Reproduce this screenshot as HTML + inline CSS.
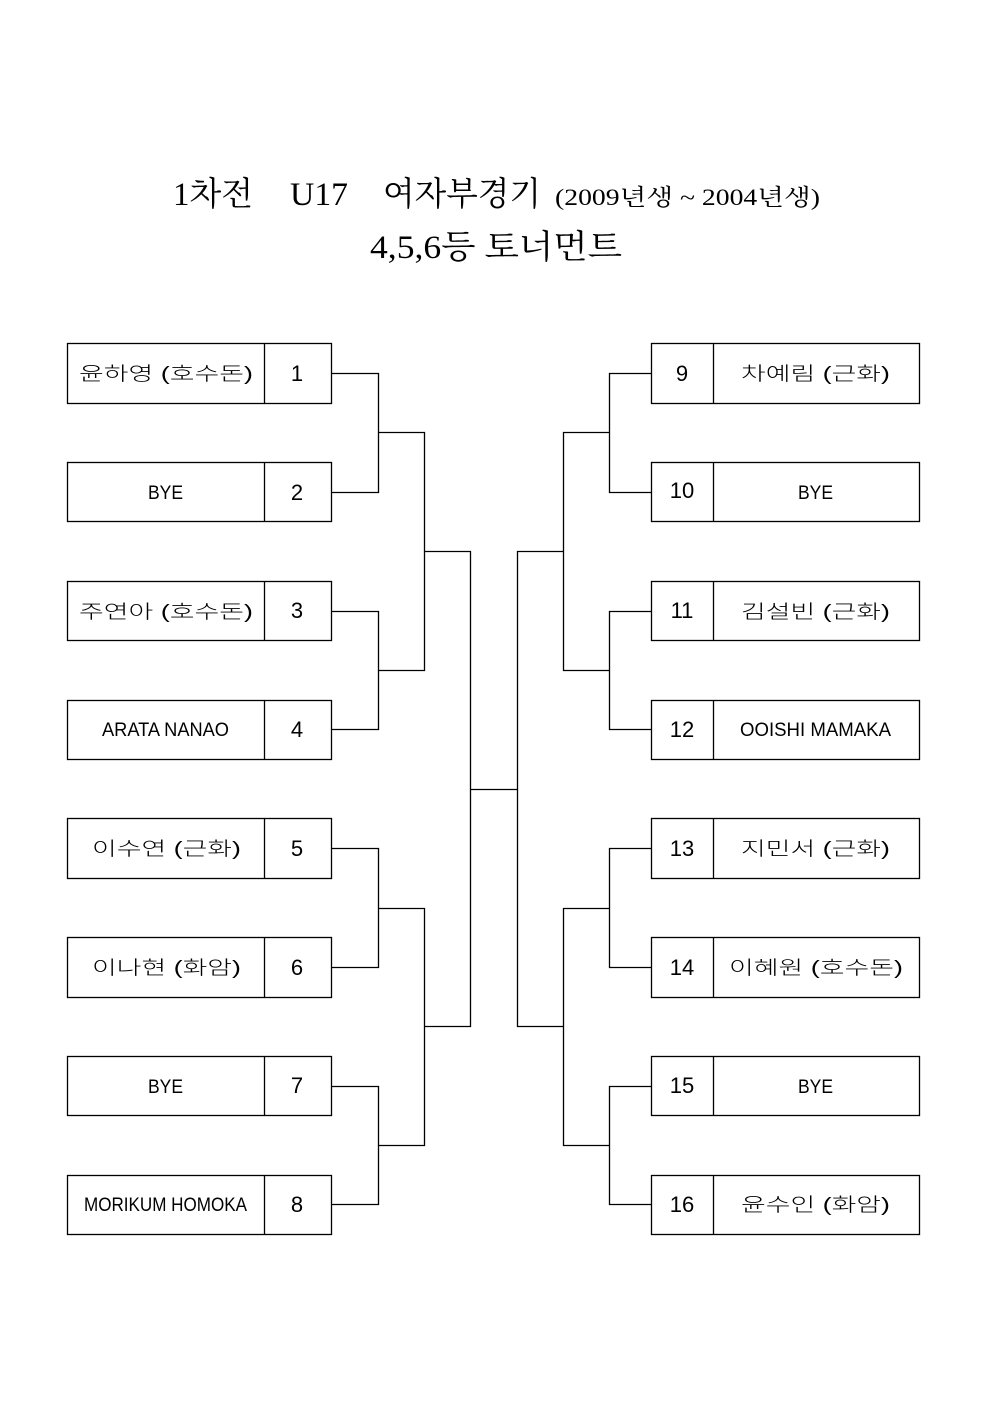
<!DOCTYPE html>
<html><head><meta charset="utf-8"><style>
html,body{margin:0;padding:0;background:#fff;}
svg{display:block;}
.t{font-family:"Liberation Serif","Noto Serif CJK KR","Noto Serif CJK SC",serif;fill:#000;}
.n{font-family:"Liberation Sans","Noto Sans CJK KR",sans-serif;fill:#000;font-size:22px;}
.nm{font-family:"Liberation Sans","Noto Sans CJK KR",sans-serif;fill:#000;font-size:19px;font-weight:300;}
</style></head><body>
<svg width="992" height="1403" viewBox="0 0 992 1403" xmlns="http://www.w3.org/2000/svg">
<text class="t" x="173" y="205" font-size="33" textLength="80" lengthAdjust="spacingAndGlyphs">1차전</text>
<text class="t" x="290" y="205" font-size="33" textLength="58" lengthAdjust="spacingAndGlyphs">U17</text>
<text class="t" x="383" y="205" font-size="33" textLength="158" lengthAdjust="spacingAndGlyphs">여자부경기</text>
<text class="t" x="555" y="205" font-size="23" textLength="265" lengthAdjust="spacingAndGlyphs">(2009년생 ~ 2004년생)</text>
<text class="t" x="370" y="258" font-size="33" textLength="252" lengthAdjust="spacingAndGlyphs">4,5,6등 토너먼트</text>
<g fill="none" stroke="#000" stroke-width="1.3">
<rect x="67.5" y="343.5" width="264" height="60"/><line x1="264.5" y1="343" x2="264.5" y2="404"/>
<rect x="67.5" y="462.5" width="264" height="59"/><line x1="264.5" y1="462" x2="264.5" y2="522"/>
<rect x="67.5" y="581.5" width="264" height="59"/><line x1="264.5" y1="581" x2="264.5" y2="641"/>
<rect x="67.5" y="700.5" width="264" height="59"/><line x1="264.5" y1="700" x2="264.5" y2="760"/>
<rect x="67.5" y="818.5" width="264" height="60"/><line x1="264.5" y1="818" x2="264.5" y2="879"/>
<rect x="67.5" y="937.5" width="264" height="60"/><line x1="264.5" y1="937" x2="264.5" y2="998"/>
<rect x="67.5" y="1056.5" width="264" height="59"/><line x1="264.5" y1="1056" x2="264.5" y2="1116"/>
<rect x="67.5" y="1175.5" width="264" height="59"/><line x1="264.5" y1="1175" x2="264.5" y2="1235"/>
<rect x="651.5" y="343.5" width="268" height="60"/><line x1="713.5" y1="343" x2="713.5" y2="404"/>
<rect x="651.5" y="462.5" width="268" height="59"/><line x1="713.5" y1="462" x2="713.5" y2="522"/>
<rect x="651.5" y="581.5" width="268" height="59"/><line x1="713.5" y1="581" x2="713.5" y2="641"/>
<rect x="651.5" y="700.5" width="268" height="59"/><line x1="713.5" y1="700" x2="713.5" y2="760"/>
<rect x="651.5" y="818.5" width="268" height="60"/><line x1="713.5" y1="818" x2="713.5" y2="879"/>
<rect x="651.5" y="937.5" width="268" height="60"/><line x1="713.5" y1="937" x2="713.5" y2="998"/>
<rect x="651.5" y="1056.5" width="268" height="59"/><line x1="713.5" y1="1056" x2="713.5" y2="1116"/>
<rect x="651.5" y="1175.5" width="268" height="59"/><line x1="713.5" y1="1175" x2="713.5" y2="1235"/>
<polyline points="331,373.5 378.5,373.5 378.5,492.5 331,492.5"/>
<polyline points="331,611.5 378.5,611.5 378.5,729.5 331,729.5"/>
<polyline points="331,848.5 378.5,848.5 378.5,967.5 331,967.5"/>
<polyline points="331,1086.5 378.5,1086.5 378.5,1204.5 331,1204.5"/>
<polyline points="378,432.5 424.5,432.5 424.5,670.5 378,670.5"/>
<polyline points="378,908.5 424.5,908.5 424.5,1145.5 378,1145.5"/>
<polyline points="424,551.5 470.5,551.5 470.5,1026.5 424,1026.5"/>
<line x1="470" y1="789.5" x2="517" y2="789.5"/>
<polyline points="651,373.5 609.5,373.5 609.5,492.5 651,492.5"/>
<polyline points="651,611.5 609.5,611.5 609.5,729.5 651,729.5"/>
<polyline points="651,848.5 609.5,848.5 609.5,967.5 651,967.5"/>
<polyline points="651,1086.5 609.5,1086.5 609.5,1204.5 651,1204.5"/>
<polyline points="609,432.5 563.5,432.5 563.5,670.5 609,670.5"/>
<polyline points="609,908.5 563.5,908.5 563.5,1145.5 609,1145.5"/>
<polyline points="563,551.5 517.5,551.5 517.5,1026.5 563,1026.5"/>
</g>
<g>
<text class="nm" x="79" y="380" textLength="174" lengthAdjust="spacingAndGlyphs">윤하영 (호수돈)</text>
<text class="nm" x="148" y="499" textLength="35" lengthAdjust="spacingAndGlyphs">BYE</text>
<text class="nm" x="79" y="618" textLength="174" lengthAdjust="spacingAndGlyphs">주연아 (호수돈)</text>
<text class="nm" x="102" y="736" textLength="127" lengthAdjust="spacingAndGlyphs">ARATA NANAO</text>
<text class="nm" x="92" y="855" textLength="149" lengthAdjust="spacingAndGlyphs">이수연 (근화)</text>
<text class="nm" x="92" y="974" textLength="149" lengthAdjust="spacingAndGlyphs">이나현 (화암)</text>
<text class="nm" x="148" y="1093" textLength="35" lengthAdjust="spacingAndGlyphs">BYE</text>
<text class="nm" x="84" y="1211" textLength="163" lengthAdjust="spacingAndGlyphs">MORIKUM HOMOKA</text>
<text class="nm" x="741" y="380" textLength="149" lengthAdjust="spacingAndGlyphs">차예림 (근화)</text>
<text class="nm" x="798" y="499" textLength="35" lengthAdjust="spacingAndGlyphs">BYE</text>
<text class="nm" x="741" y="618" textLength="149" lengthAdjust="spacingAndGlyphs">김설빈 (근화)</text>
<text class="nm" x="740" y="736" textLength="151" lengthAdjust="spacingAndGlyphs">OOISHI MAMAKA</text>
<text class="nm" x="741" y="855" textLength="149" lengthAdjust="spacingAndGlyphs">지민서 (근화)</text>
<text class="nm" x="729" y="974" textLength="174" lengthAdjust="spacingAndGlyphs">이혜원 (호수돈)</text>
<text class="nm" x="798" y="1093" textLength="35" lengthAdjust="spacingAndGlyphs">BYE</text>
<text class="nm" x="741" y="1211" textLength="149" lengthAdjust="spacingAndGlyphs">윤수인 (화암)</text>
</g>
<g text-anchor="middle">
<text class="n" x="297" y="381">1</text>
<text class="n" x="297" y="500">2</text>
<text class="n" x="297" y="618">3</text>
<text class="n" x="297" y="737">4</text>
<text class="n" x="297" y="856">5</text>
<text class="n" x="297" y="975">6</text>
<text class="n" x="297" y="1093">7</text>
<text class="n" x="297" y="1212">8</text>
<text class="n" x="682" y="381">9</text>
<text class="n" x="682" y="498">10</text>
<text class="n" x="682" y="618">11</text>
<text class="n" x="682" y="737">12</text>
<text class="n" x="682" y="856">13</text>
<text class="n" x="682" y="975">14</text>
<text class="n" x="682" y="1093">15</text>
<text class="n" x="682" y="1212">16</text>
</g>
</svg>
</body></html>
